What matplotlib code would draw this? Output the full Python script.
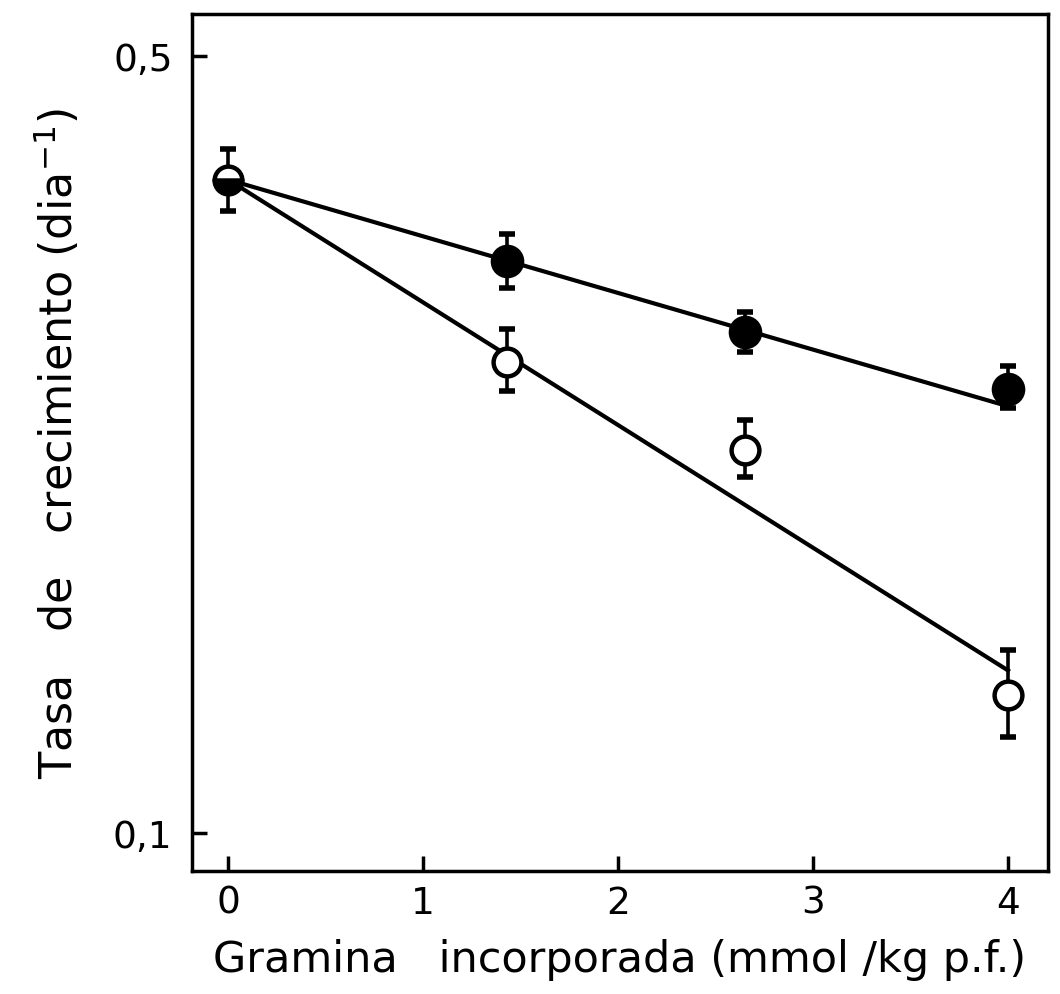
import numpy as np
from matplotlib import pyplot as plt
from matplotlib.ticker import NullLocator

# datos
x = [0, 1.43, 2.65, 4]
llenos = [0.387, 0.327, 0.282, 0.251]
llenos_sup = [0.412, 0.346, 0.294, 0.263]
llenos_inf = [0.363, 0.309, 0.271, 0.241]
abiertos = [0.387, 0.265, 0.221, 0.133]
abiertos_sup = [0.412, 0.284, 0.235, 0.146]
abiertos_inf = [0.363, 0.250, 0.209, 0.122]
# rectas ajustadas (extremos)
recta_x = [0, 4]
recta_llenos = [0.387, 0.242]
recta_abiertos = [0.387, 0.140]

yticks = [0.1, 0.5]
ytick_labels = ['0,1', '0,5']
xticks = [0, 1, 2, 3, 4]

plt.rcParams['font.family'] = ['DejaVu Sans']

fig = plt.figure(figsize=(10.6, 9.95), dpi=100)
ax = fig.add_axes([0.1811, 0.1236, 0.8076, 0.8613])

ax.plot(recta_x, recta_llenos, color='black', lw=3, zorder=2)
ax.plot(recta_x, recta_abiertos, color='black', lw=3, zorder=2)

ll = np.array(llenos)
err_ll = [ll - np.array(llenos_inf), np.array(llenos_sup) - ll]
ab = np.array(abiertos)
err_ab = [ab - np.array(abiertos_inf), np.array(abiertos_sup) - ab]

estilo_err = dict(ecolor='black', elinewidth=2.6, capsize=6, capthick=4)

# puntos abiertos
ax.errorbar(x[1:], ab[1:], yerr=[err_ab[0][1:], err_ab[1][1:]], fmt='none',
            zorder=3, **estilo_err)
ax.plot(x[1:], ab[1:], 'o', ms=20, mfc='white', mec='black', mew=3.2, zorder=4)
# puntos llenos
ax.errorbar(x[1:], ll[1:], yerr=[err_ll[0][1:], err_ll[1][1:]], fmt='none',
            zorder=3, **estilo_err)
ax.plot(x[1:], ll[1:], 'o', ms=21, mfc='black', mec='black', mew=3.2, zorder=4)
# primer punto compartido (mitad relleno)
ax.errorbar(x[:1], ll[:1], yerr=[err_ll[0][:1], err_ll[1][:1]], fmt='none',
            zorder=3, **estilo_err)
ax.plot(x[:1], ll[:1], 'o', ms=20, fillstyle='bottom', mfc='black',
        mfcalt='white', mec='black', mew=3.2, zorder=5)

ax.set_yscale('log')
ax.set_ylim(0.0924, 0.5454)
ax.set_xlim(-0.185, 4.205)
ax.set_yticks(yticks)
ax.set_yticklabels(ytick_labels)
ax.yaxis.set_minor_locator(NullLocator())
ax.set_xticks(xticks)

for s in ax.spines.values():
    s.set_linewidth(2.5)
ax.tick_params(direction='in', length=11, width=2.5, labelsize=27, pad=10)
ax.tick_params(axis='y', pad=14)

ax.set_xlabel('Gramina   incorporada (mmol /kg p.f.)', fontsize=31, labelpad=12)
ax.set_ylabel('Tasa   de   crecimiento (dia$^{-1}$)', fontsize=32, labelpad=22)

fig.savefig('out.png', dpi=100)
